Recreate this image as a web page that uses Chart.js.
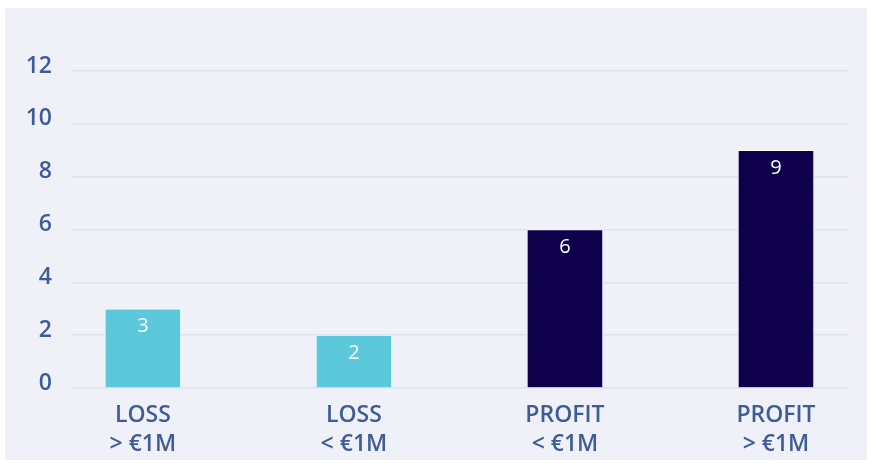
<!DOCTYPE html>
<html lang="en">
<head>
    <meta charset="UTF-8">
    <title>Loss / Profit</title>
    <script src="https://cdn.jsdelivr.net/npm/chart.js"></script>
    <style>
        html, body {
            margin: 0;
            padding: 0;
            background: #ffffff;
        }

        #panel {
            position: absolute;
            left: 5px;
            top: 8px;
            width: 862px;
            height: 452px;
            background: #eff0f8;
        }
    </style>
</head>
<body>

    <div id="panel">
        <canvas id="grafica" width="862" height="452"></canvas>
    </div>

<script>
        // datos
        const categorias = [["LOSS", "> €1M"], ["LOSS", "< €1M"], ["PROFIT", "< €1M"], ["PROFIT", "> €1M"]];
        const valores = [3, 2, 6, 9];
        const coloresBarras = ["#5cc8db", "#5cc8db", "#0e004a", "#0e004a"];
        const ticksY = [0, 2, 4, 6, 8, 10, 12];

        const colorTexto = "#3d5c98";
        const fuente = "'Open Sans', sans-serif";

        // etiquetas blancas dentro de la barra
        const etiquetasBarras = {
            id: 'etiquetasBarras',
            afterDatasetsDraw(chart) {
                const ctx = chart.ctx;
                const meta = chart.getDatasetMeta(0);
                ctx.save();
                ctx.fillStyle = '#ffffff';
                ctx.font = '500 20px ' + fuente;
                ctx.textAlign = 'center';
                ctx.textBaseline = 'middle';
                meta.data.forEach((bar, i) => {
                    ctx.fillText(String(valores[i]), bar.x, bar.y + 18);
                });
                ctx.restore();
            }
        };

        const ctx = document.getElementById('grafica').getContext('2d');
        const grafica = new Chart(ctx, {
            type: 'bar',
            data: {
                datasets: [{
                    data: valores.map((v, i) => ({ x: i, y: v })),
                    backgroundColor: coloresBarras,
                    borderColor: 'rgba(255,255,255,0.9)',
                    borderWidth: 1,
                    barThickness: 76
                }]
            },
            plugins: [etiquetasBarras],
            options: {
                animation: false,
                responsive: false,
                layout: {
                    padding: { top: 63, right: 18, bottom: 0, left: 0 }
                },
                plugins: {
                    legend: { display: false },
                    tooltip: { enabled: false }
                },
                scales: {
                    x: {
                        type: 'linear',
                        offset: false,
                        min: -0.336,
                        max: 3.346,
                        afterBuildTicks: (scale) => {
                            scale.ticks = categorias.map((c, i) => ({ value: i }));
                        },
                        afterFit: (scale) => { scale.height = 72; },
                        grid: { display: false },
                        border: { display: false },
                        ticks: {
                            color: colorTexto,
                            font: { family: fuente, size: 23, weight: '600', lineHeight: 1.25 },
                            padding: 5,
                            maxRotation: 0,
                            callback: (v) => categorias[v]
                        }
                    },
                    y: {
                        min: 0,
                        max: 12,
                        afterBuildTicks: (scale) => {
                            scale.ticks = ticksY.map(v => ({ value: v }));
                        },
                        afterFit: (scale) => { scale.width = 67; },
                        grid: { color: '#dce2f2', lineWidth: 1.5, drawTicks: false },
                        border: { display: false },
                        ticks: {
                            color: colorTexto,
                            font: { family: fuente, size: 23, weight: '600' },
                            padding: 20,
                            labelOffset: -5
                        }
                    }
                }
            }
        });
    </script>

</body>
</html>
